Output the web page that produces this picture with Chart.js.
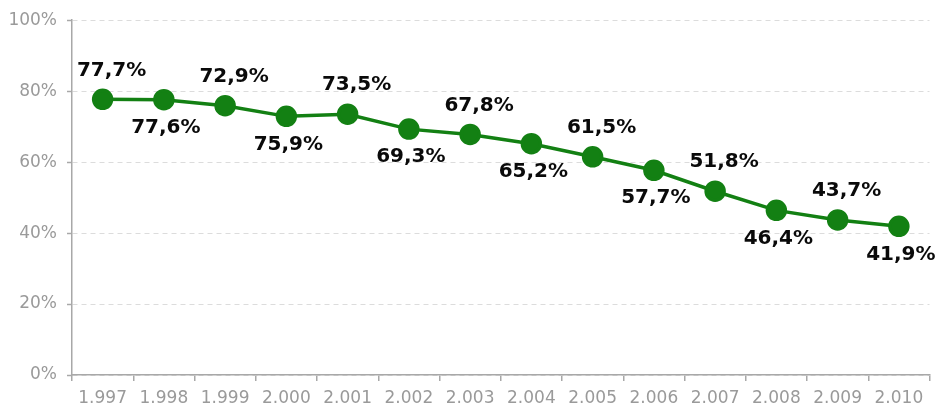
<!DOCTYPE html>
<html>
<head>
<meta charset="utf-8">
<script src="https://cdn.jsdelivr.net/npm/chart.js@4/dist/chart.umd.min.js"></script>
<style>
html,body{margin:0;padding:0;background:#fff;}
#wrap{width:942px;height:410px;position:relative;}
</style>
</head>
<body>
<div id="wrap"><canvas id="c" width="942" height="410"></canvas></div>
<script>
const years = ["1.997","1.998","1.999","2.000","2.001","2.002","2.003","2.004","2.005","2.006","2.007","2.008","2.009","2.010"];
const values = [77.7, 77.6, 75.9, 72.9, 73.5, 69.3, 67.8, 65.2, 61.5, 57.7, 51.8, 46.4, 43.7, 41.9];
const pointLabels = ["77,7%","77,6%","72,9%","75,9%","73,5%","69,3%","67,8%","65,2%","61,5%","57,7%","51,8%","46,4%","43,7%","41,9%"];
const yTicks = [0, 20, 40, 60, 80, 100];

const labelPlugin = {
  id: 'pointLabels',
  afterDatasetsDraw(chart) {
    const ctx = chart.ctx;
    const meta = chart.getDatasetMeta(0);
    ctx.save();
    ctx.font = 'bold 20px "DejaVu Sans", Verdana, sans-serif';
    ctx.fillStyle = '#0a0a0a';
    ctx.textAlign = 'center';
    ctx.textBaseline = 'middle';
    meta.data.forEach((pt, i) => {
      const above = i % 2 === 0;
      const dx = above ? 9 : 2;
      const dy = above ? -29 : 28;
      ctx.fillText(pointLabels[i], pt.x + dx, pt.y + dy);
    });
    ctx.restore();
  }
};

new Chart(document.getElementById('c'), {
  type: 'line',
  data: {
    labels: years,
    datasets: [{
      data: values,
      borderColor: '#138013',
      backgroundColor: '#138013',
      borderWidth: 3.5,
      pointRadius: 9,
      pointHoverRadius: 9,
      pointBackgroundColor: '#138013',
      pointBorderColor: '#138013',
      tension: 0,
      fill: false
    }]
  },
  options: {
    responsive: false,
    animation: false,
    events: [],
    layout: { padding: { top: 20, right: 10, left: 0, bottom: 0 } },
    plugins: { legend: { display: false }, tooltip: { enabled: false } },
    scales: {
      x: {
        type: 'category',
        offset: true,
        grid: {
          offset: true,
          drawOnChartArea: false,
          drawTicks: true,
          tickLength: 6,
          tickColor: '#a8a8a8',
          lineWidth: 1.5
        },
        border: { display: true, color: '#a8a8a8', width: 1.5 },
        ticks: {
          color: '#9a9a9a',
          font: { family: '"DejaVu Sans", Verdana, sans-serif', size: 17 },
          maxRotation: 0,
          autoSkip: false,
          padding: 7
        },
        afterFit(scale) { scale.height = 35; }
      },
      y: {
        min: 0,
        max: 100,
        afterBuildTicks(scale) { scale.ticks = yTicks.map(v => ({ value: v })); },
        grid: {
          color: '#dcdcdc',
          lineWidth: 1,
          drawTicks: true,
          tickLength: 5,
          tickColor: '#a8a8a8',
          tickBorderDash: [],
          tickWidth: 1.5
        },
        border: { display: true, color: '#a8a8a8', width: 1.5, dash: [5, 4] },
        ticks: {
          color: '#9a9a9a',
          font: { family: '"DejaVu Sans", Verdana, sans-serif', size: 17 },
          padding: 10,
          callback: (v) => v + '%'
        },
        afterFit(scale) { scale.width = 72; }
      }
    }
  },
  plugins: [labelPlugin]
});
</script>
</body>
</html>
